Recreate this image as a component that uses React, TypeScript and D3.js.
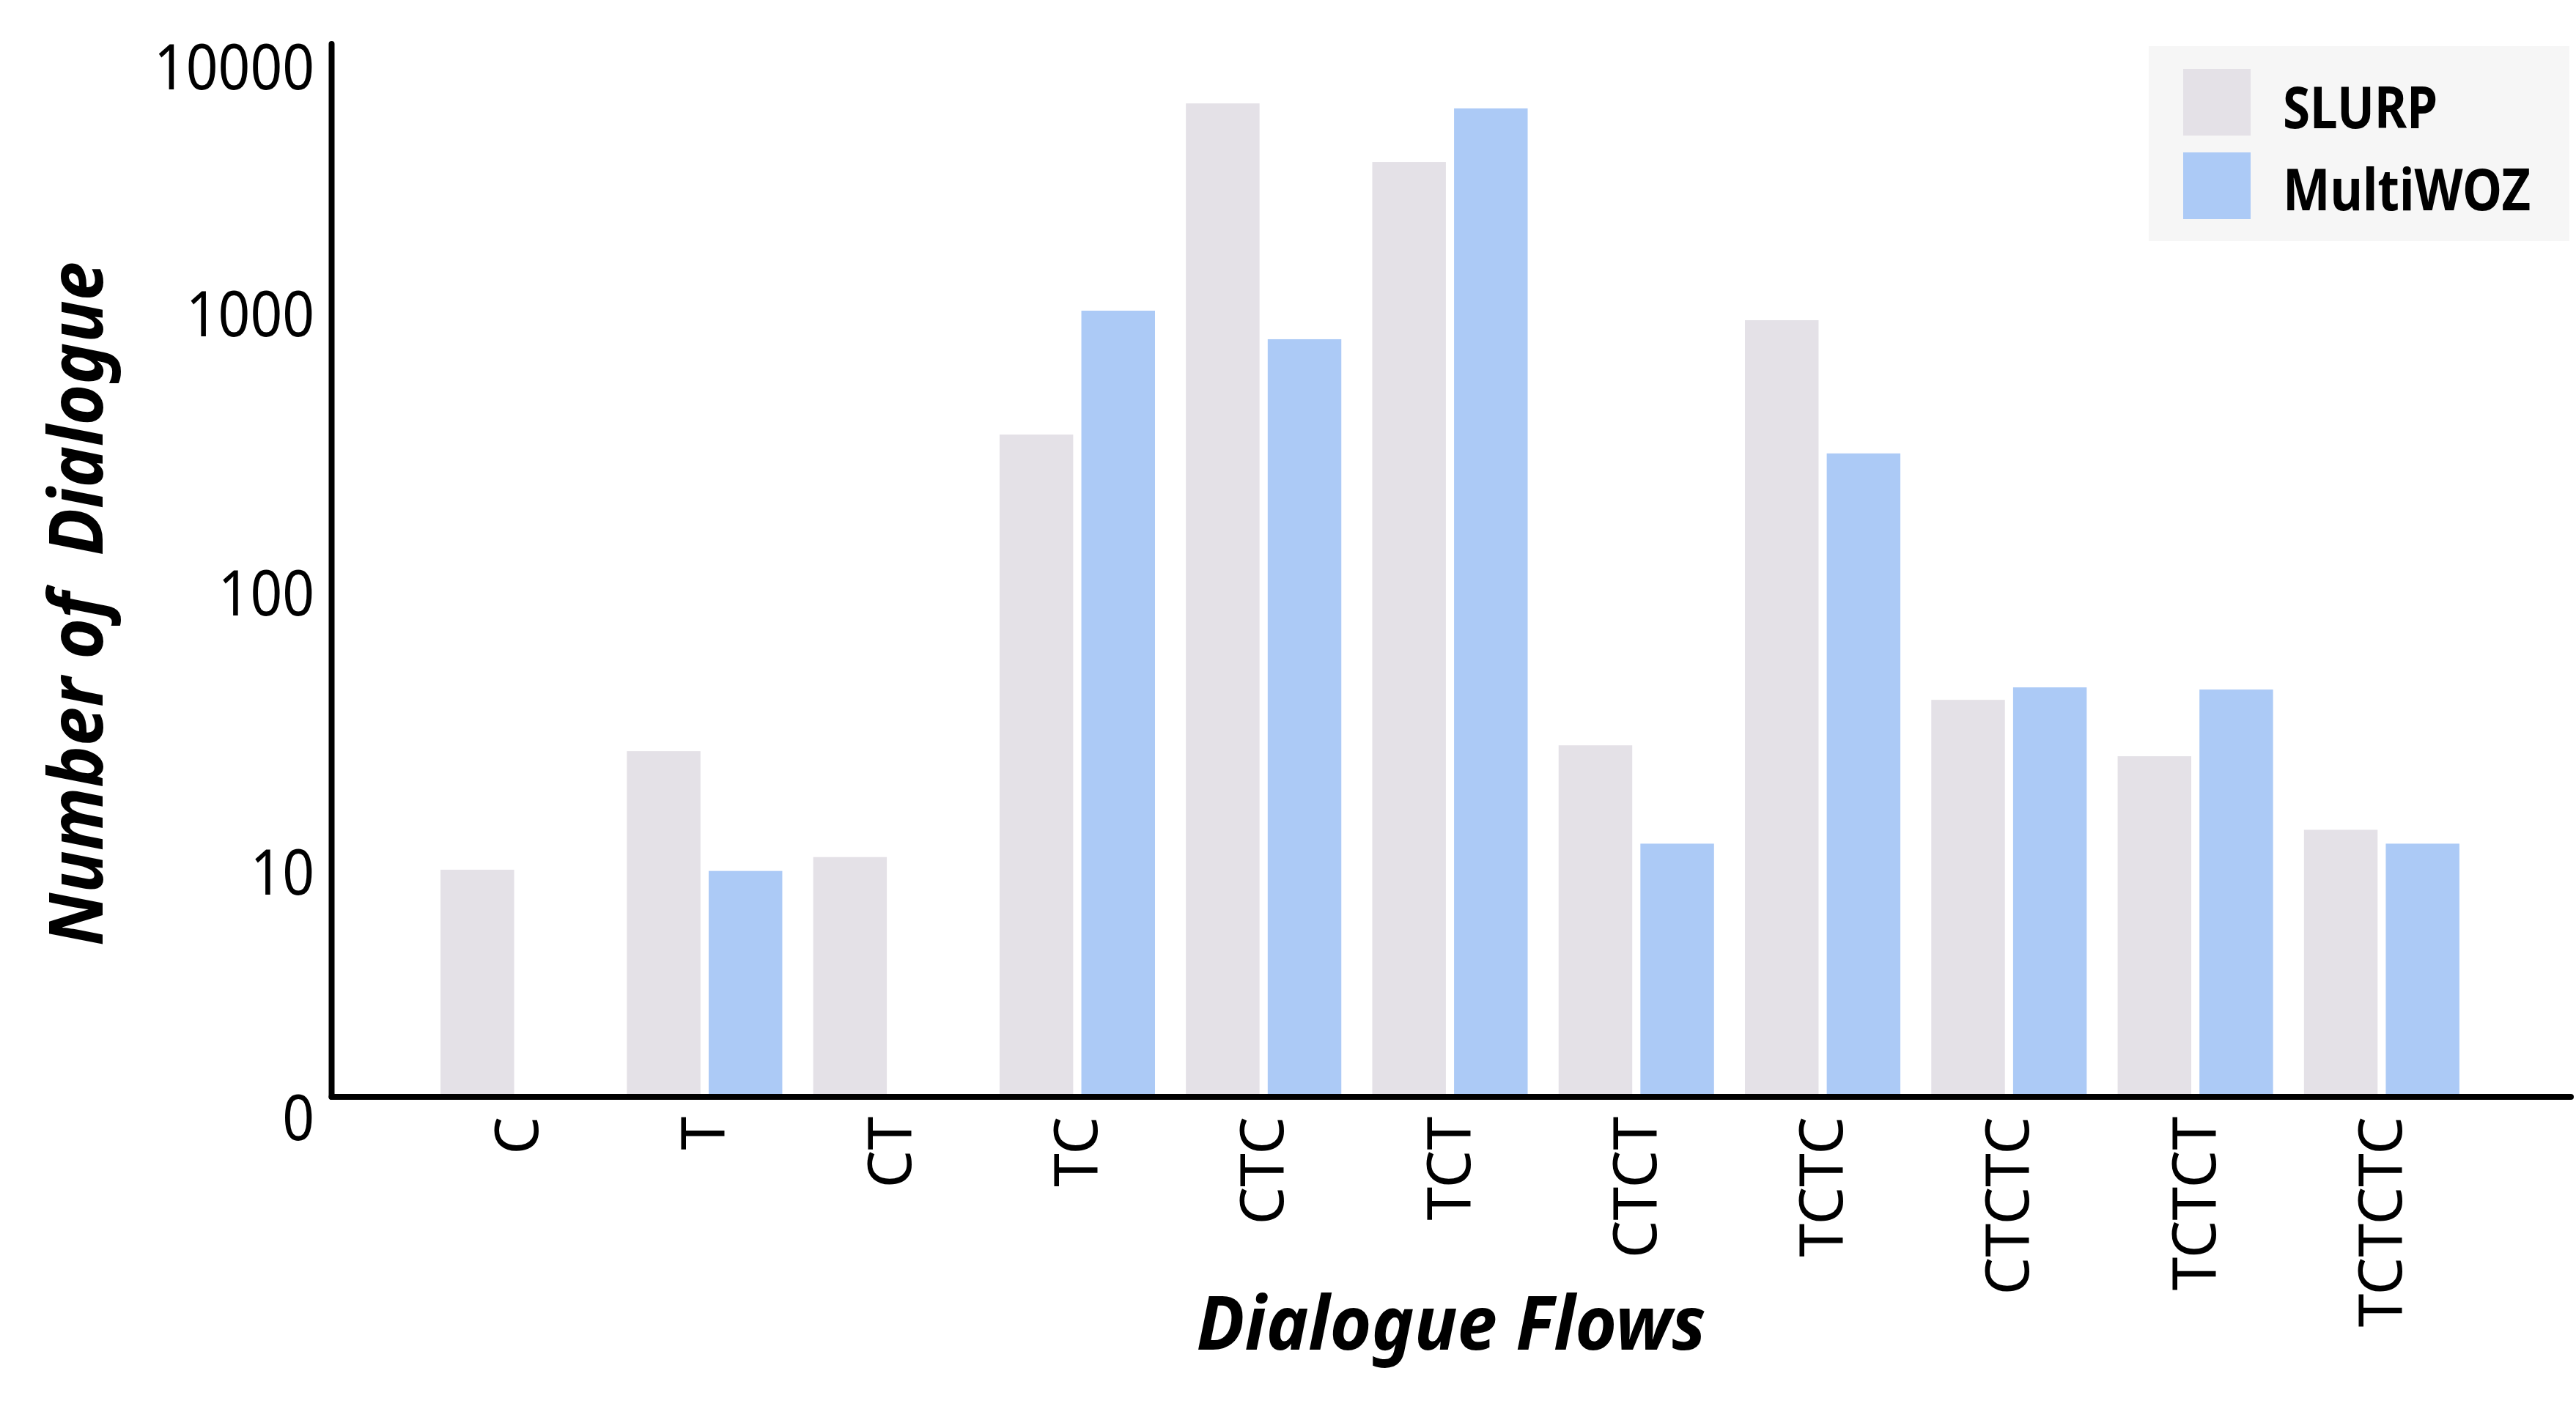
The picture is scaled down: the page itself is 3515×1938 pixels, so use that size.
import * as d3 from 'd3';
import React, { useEffect, useRef } from 'react';

const flows = ['C', 'T', 'CT', 'TC', 'CTC', 'TCT', 'CTCT', 'TCTC', 'CTCTC', 'TCTCT', 'TCTCTC'];
const seriesNames = ['SLURP', 'MultiWOZ'];
// counts per flow (null = no bar)
const slurpCounts = [10, 26.6, 11.1, 362, 5560, 3430, 27.9, 930, 40.6, 25.5, 13.9];
const multiwozCounts = [null, 9.9, null, 1006, 795, 5335, 12.4, 310, 45, 44.2, 12.4];
const yTickValues = [10, 100, 1000];
const yEndLabels = ['0', '10000'];

const colors: Record<string, string> = { SLURP: '#e4e1e7', MultiWOZ: '#accaf6' };

const W = 3515;
const H = 1938;

const App = () => {
  const ref = useRef<SVGSVGElement>(null);

  useEffect(() => {
    document.body.style.margin = '0';
    const svg = d3.select(ref.current);
    svg.selectAll('*').remove();

    const axisX = 452.5;
    const baseY = 1497;
    const topY = 60;

    // log scale, anchored on the 10 and 1000 decade labels
    const y = d3.scaleLog().domain([10, 1000]).range([1187, 425]);
    const yBottom = y.invert(baseY);
    y.domain([yBottom, y.invert(topY)]).range([baseY, topY]);

    const x0 = d3.scaleBand<string>().domain(flows).range([580, 3377]).paddingInner(0.166).paddingOuter(0.083);
    const x1 = d3.scaleBand<string>().domain(seriesNames).range([0, x0.bandwidth()]).paddingInner(0.1);

    const rows = flows.map((f, i) => ({ flow: f, SLURP: slurpCounts[i], MultiWOZ: multiwozCounts[i] }));

    // bars
    const groups = svg.append('g').selectAll('g')
      .data(rows).enter().append('g')
      .attr('transform', d => `translate(${x0(d.flow)},0)`);

    groups.selectAll('rect')
      .data(d => seriesNames.map(s => ({ key: s, value: (d as any)[s] as number | null })).filter(v => v.value != null))
      .enter().append('rect')
      .attr('x', d => x1(d.key)!)
      .attr('y', d => y(d.value!))
      .attr('width', x1.bandwidth())
      .attr('height', d => baseY - y(d.value!))
      .attr('fill', d => colors[d.key]);

    // axes lines
    svg.append('line')
      .attr('x1', axisX).attr('x2', axisX).attr('y1', topY).attr('y2', baseY)
      .attr('stroke', '#000').attr('stroke-width', 8).attr('stroke-linecap', 'round');
    svg.append('line')
      .attr('x1', axisX).attr('x2', 3508).attr('y1', baseY).attr('y2', baseY)
      .attr('stroke', '#000').attr('stroke-width', 8).attr('stroke-linecap', 'round');

    // y tick labels
    const tickFont = "'Noto Sans', sans-serif";
    const yLabels = [
      { text: yEndLabels[0], pos: baseY + 25 },
      ...yTickValues.map(v => ({ text: String(v), pos: y(v) })),
      { text: yEndLabels[1], pos: topY + 28 },
    ];
    svg.append('g').selectAll('text')
      .data(yLabels).enter().append('text')
      .attr('x', 429)
      .attr('y', d => d.pos)
      .attr('text-anchor', 'end')
      .attr('dominant-baseline', 'central')
      .attr('font-family', tickFont)
      .attr('font-size', 86)
      .attr('textLength', d => d.text.length * 43.8)
      .attr('lengthAdjust', 'spacingAndGlyphs')
      .attr('fill', '#000')
      .text(d => d.text);

    // x category labels, rotated
    svg.append('g').selectAll('text')
      .data(flows).enter().append('text')
      .attr('transform', d => `translate(${x0(d)! + x0.bandwidth() / 2 - 5},1524) rotate(-90)`)
      .attr('text-anchor', 'end')
      .attr('dominant-baseline', 'central')
      .attr('font-family', tickFont)
      .attr('font-size', 82)
      .attr('fill', '#000')
      .text(d => d);

    // axis titles
    const titleFont = "'Noto Sans', sans-serif";
    svg.append('text')
      .attr('x', 1980).attr('y', 1842)
      .attr('text-anchor', 'middle')
      .attr('font-family', titleFont)
      .attr('font-size', 102)
      .attr('font-weight', 700)
      .attr('font-style', 'italic')
      .attr('textLength', 695)
      .attr('lengthAdjust', 'spacingAndGlyphs')
      .text('Dialogue Flows');

    svg.append('text')
      .attr('transform', 'translate(140,824) rotate(-90)')
      .attr('text-anchor', 'middle')
      .attr('font-family', titleFont)
      .attr('font-size', 102)
      .attr('font-weight', 700)
      .attr('font-style', 'italic')
      .attr('textLength', 934)
      .attr('lengthAdjust', 'spacingAndGlyphs')
      .style('white-space', 'pre')
      .text('Number of  Dialogue');

    // legend
    const legend = svg.append('g');
    legend.append('rect')
      .attr('x', 2932).attr('y', 63).attr('width', 574).attr('height', 266)
      .attr('fill', '#f6f6f6');
    const item = legend.selectAll('g.item')
      .data(seriesNames).enter().append('g')
      .attr('class', 'item')
      .attr('transform', (_d, i) => `translate(2979,${94 + i * 114})`);
    item.append('rect')
      .attr('width', 92).attr('height', 91)
      .attr('fill', d => colors[d]);
    item.append('text')
      .attr('x', 136).attr('y', (_d, i) => 81 - i * 2)
      .attr('font-family', titleFont)
      .attr('font-size', 78)
      .attr('font-weight', 700)
      .attr('textLength', d => (d === 'SLURP' ? 211 : 338))
      .attr('lengthAdjust', 'spacingAndGlyphs')
      .text(d => d);
  }, []);

  return <svg ref={ref} width={W} height={H} style={{ display: 'block', background: '#fff' }} />;
};

export default App;
